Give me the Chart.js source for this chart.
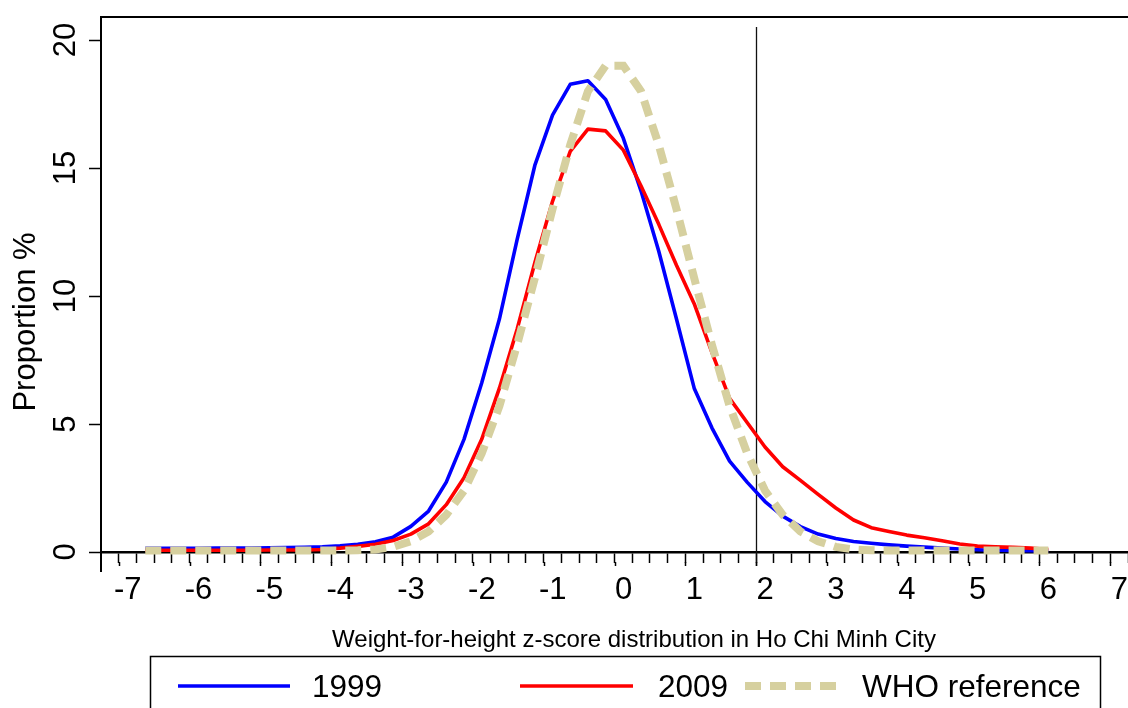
<!DOCTYPE html>
<html>
<head>
<meta charset="utf-8">
<style>
html,body{margin:0;padding:0;background:#fff;overflow:hidden}
#wrap{width:1128px;height:708px;position:relative}
canvas{display:block}
</style>
<script src="https://cdn.jsdelivr.net/npm/chart.js@4.4.1/dist/chart.umd.min.js"></script>
</head>
<body>
<div id="wrap"><canvas id="c" width="1128" height="708"></canvas></div>
<script>
// ---- data ----
const zScores = [-6.625,-6.375,-6.125,-5.875,-5.625,-5.375,-5.125,-4.875,-4.625,-4.375,-4.125,-3.875,-3.625,-3.375,-3.125,-2.875,-2.625,-2.375,-2.125,-1.875,-1.625,-1.375,-1.125,-0.875,-0.625,-0.375,-0.125,0.125,0.375,0.625,0.875,1.125,1.375,1.625,1.875,2.125,2.375,2.625,2.875,3.125,3.375,3.625,3.875,4.125,4.375,4.625,4.875,5.125,5.375,5.625,5.875,6.125];
const prop1999 = [0.14,0.14,0.14,0.14,0.15,0.15,0.15,0.16,0.17,0.18,0.20,0.24,0.30,0.40,0.58,1.00,1.60,2.73,4.40,6.60,9.10,12.20,15.10,17.07,18.27,18.41,17.68,16.16,14.10,11.75,9.10,6.40,4.85,3.55,2.72,1.97,1.40,0.99,0.70,0.53,0.41,0.34,0.28,0.23,0.19,0.15,0.12,0.09,0.07,0.06,0.05,0.04];
const prop2009 = [0.07,0.07,0.07,0.07,0.07,0.07,0.07,0.08,0.08,0.08,0.10,0.15,0.22,0.30,0.45,0.70,1.10,1.85,2.90,4.40,6.40,8.70,11.30,13.70,15.65,16.52,16.45,15.70,14.30,12.80,11.20,9.70,7.80,6.00,5.05,4.10,3.33,2.80,2.25,1.72,1.25,0.95,0.80,0.66,0.56,0.44,0.31,0.23,0.20,0.18,0.15,0.10];
const propWHO = [0.06,0.06,0.06,0.06,0.06,0.06,0.06,0.06,0.06,0.06,0.06,0.06,0.07,0.10,0.20,0.42,0.80,1.45,2.40,3.85,5.70,8.10,10.70,13.40,15.90,18.00,19.00,19.00,18.00,15.90,13.40,10.70,8.10,5.70,3.85,2.40,1.45,0.80,0.42,0.20,0.10,0.07,0.06,0.06,0.06,0.06,0.06,0.06,0.06,0.06,0.06,0.06];
const seriesLabels = ['1999','2009','WHO reference'];
const xTickValues = [-7,-6,-5,-4,-3,-2,-1,0,1,2,3,4,5,6,7];
const xTickLabels = ['-7','-6','-5','-4','-3','-2','-1','0','1','2','3','4','5','6','7'];
const yTickValues = [0,5,10,15,20];
const yTickLabels = ['0','5','10','15','20'];
const cutoffZ = 2;
const xTitle = 'Weight-for-height z-score distribution in Ho Chi Minh City';
const yTitle = 'Proportion %';

// ---- styling / layout ----
const FONT = '"Liberation Sans", Arial, Helvetica, sans-serif';
const X_MIN = -7.25, X_MAX = 7.25, Y_MIN = 0, Y_MAX = 20.9, MINOR_STEP = 0.25;

function pts(vals){ return zScores.map((z,i)=>({x:z, y:vals[i]})); }

const decorPlugin = {
  id: 'decor',
  beforeDatasetsDraw(chart){
    const ctx = chart.ctx, a = chart.chartArea, xs = chart.scales.x;
    const px = Math.round(xs.getPixelForValue(cutoffZ)) + 0.5;
    ctx.save();
    ctx.strokeStyle = '#111'; ctx.lineWidth = 1.3;
    ctx.beginPath(); ctx.moveTo(px, a.top + 10); ctx.lineTo(px, a.bottom + 14); ctx.stroke();
    ctx.restore();
  },
  afterDraw(chart){
    const ctx = chart.ctx, a = chart.chartArea, ys = chart.scales.y, xs = chart.scales.x;
    ctx.save();
    // top frame and y-axis extension
    ctx.strokeStyle = '#000'; ctx.lineWidth = 2;
    ctx.beginPath(); ctx.moveTo(a.left - 1, a.top); ctx.lineTo(a.right, a.top); ctx.stroke();
    ctx.beginPath(); ctx.moveTo(a.left, a.bottom); ctx.lineTo(a.left, a.bottom + 20); ctx.stroke();
    // slightly longer major x ticks
    ctx.lineWidth = 1.5;
    xTickValues.forEach(v=>{
      const px = Math.round(xs.getPixelForValue(v)) + 0.5;
      ctx.beginPath(); ctx.moveTo(px, a.bottom + 10); ctx.lineTo(px, a.bottom + 14); ctx.stroke();
    });
    // rotated y tick labels
    ctx.fillStyle = '#000';
    ctx.font = '31px ' + FONT;
    ctx.textAlign = 'center'; ctx.textBaseline = 'alphabetic';
    yTickValues.forEach((v,i)=>{
      const py = ys.getPixelForValue(v);
      ctx.save(); ctx.translate(a.left - 26, py); ctx.rotate(-Math.PI/2);
      ctx.fillText(yTickLabels[i], 0, 0); ctx.restore();
    });
    // y title
    ctx.font = '31px ' + FONT;
    ctx.save(); ctx.translate(35, 322); ctx.rotate(-Math.PI/2);
    ctx.fillText(yTitle, 0, 0); ctx.restore();
    // x title
    ctx.font = '24px ' + FONT;
    ctx.fillText(xTitle, 634, 647);
    // legend
    const box = {left:150, top:656, right:1100, bottom:730};
    ctx.lineWidth = 1.5; ctx.strokeStyle = '#000';
    ctx.strokeRect(box.left + 0.5, box.top + 0.5, box.right - box.left, box.bottom - box.top);
    const slots = [{s0:178, s1:290, tx:312}, {s0:520, s1:633, tx:658}, {s0:745, s1:838, tx:862}];
    const rowY = 686;
    const order = [0,1,2];
    ctx.font = '31.5px ' + FONT; ctx.textAlign = 'left';
    order.forEach((di, k)=>{
      const ds = chart.data.datasets[di], s = slots[k];
      ctx.save();
      ctx.strokeStyle = ds.borderColor; ctx.lineWidth = ds.borderWidth;
      ctx.setLineDash(ds.borderDash || []); ctx.lineCap = 'butt';
      ctx.beginPath(); ctx.moveTo(s.s0, rowY); ctx.lineTo(s.s1, rowY); ctx.stroke();
      ctx.restore();
      ctx.fillStyle = '#000';
      ctx.fillText(ds.label, s.tx, 697);
    });
    ctx.restore();
  }
};

new Chart(document.getElementById('c'), {
  type: 'line',
  data: {
    datasets: [
      {label: seriesLabels[0], data: pts(prop1999), borderColor: '#0000ff', borderWidth: 3.6, pointRadius: 0, tension: 0, fill: false, clip: false, order: 2, borderJoinStyle: 'round'},
      {label: seriesLabels[1], data: pts(prop2009), borderColor: '#ff0000', borderWidth: 3.6, pointRadius: 0, tension: 0, fill: false, clip: false, order: 1, borderJoinStyle: 'round'},
      {label: seriesLabels[2], data: pts(propWHO), borderColor: '#d6d09f', borderWidth: 8, borderDash: [16, 9], borderCapStyle: 'butt', pointRadius: 0, tension: 0, fill: false, clip: false, order: 0}
    ]
  },
  options: {
    responsive: false,
    animation: false,
    devicePixelRatio: 1,
    layout: {padding: {top: 17, left: 0, right: 0, bottom: 0}},
    plugins: {legend: {display: false}, tooltip: {enabled: false}, title: {display: false}},
    scales: {
      x: {
        type: 'linear', min: X_MIN, max: X_MAX, z: 1,
        afterBuildTicks(scale){
          const t = [];
          for (let k = 0; ; k++) {
            const v = xTickValues[0] + k * MINOR_STEP;
            if (v > X_MAX + 1e-9) break;
            t.push({value: v});
          }
          scale.ticks = t;
        },
        afterFit(scale){ scale.height = 156; scale.paddingLeft = 0; scale.paddingRight = 0; },
        border: {display: true, color: '#000', width: 2.5},
        grid: {display: true, drawOnChartArea: false, drawTicks: true, tickLength: 11, tickColor: '#000', tickWidth: 1.5},
        ticks: {
          autoSkip: false, maxRotation: 0, minRotation: 0, labelOffset: 9, padding: 9,
          color: '#000', font: {family: FONT, size: 31},
          callback(value){
            const i = xTickValues.findIndex(v => Math.abs(v - value) < 1e-6);
            return i >= 0 ? xTickLabels[i] : '';
          }
        },
        title: {display: false}
      },
      y: {
        type: 'linear', min: Y_MIN, max: Y_MAX,
        afterBuildTicks(scale){ scale.ticks = yTickValues.map(v => ({value: v})); },
        afterFit(scale){ scale.width = 101; scale.paddingTop = 0; scale.paddingBottom = 0; },
        border: {display: true, color: '#000', width: 2},
        grid: {display: true, drawOnChartArea: false, drawTicks: true, tickLength: 12, tickColor: '#000', tickWidth: 1.5},
        ticks: {display: false},
        title: {display: false}
      }
    }
  },
  plugins: [decorPlugin]
});
</script>
</body>
</html>
